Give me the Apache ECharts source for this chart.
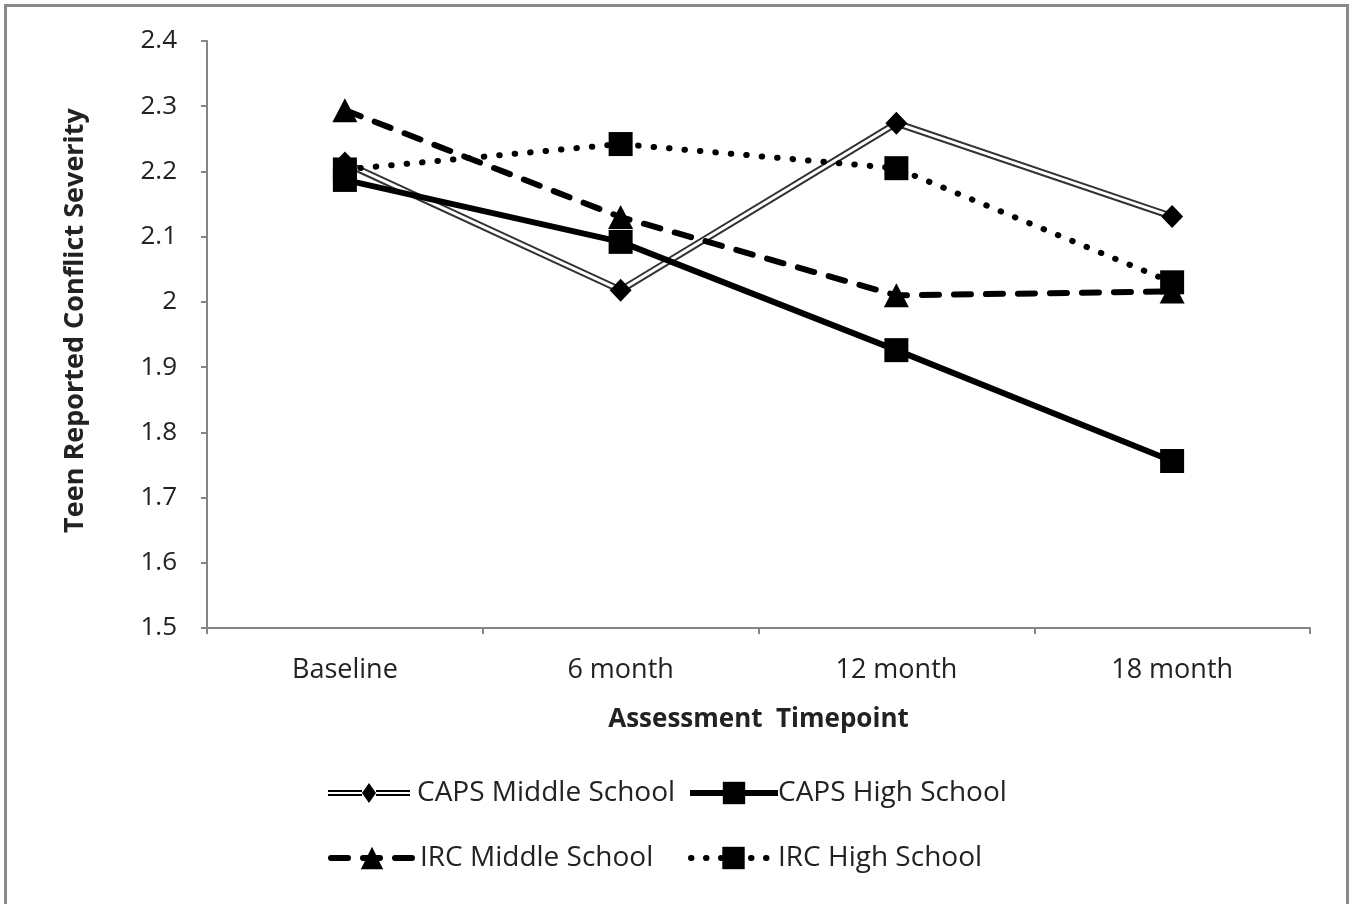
<!DOCTYPE html>
<html>
<head>
<meta charset="utf-8">
<script src="https://cdn.jsdelivr.net/npm/echarts@6/dist/echarts.min.js"></script>
<style>
  html, body { margin: 0; padding: 0; background: #fff; overflow: hidden; }
  #frame { position: absolute; left: 4px; top: 4px; width: 1339px; height: 940px; border: 3px solid #8a8a8a; box-sizing: content-box; }
  #chart { position: absolute; left: 0; top: 0; width: 1353px; height: 904px; }
</style>
</head>
<body>
<div id="frame"></div>
<div id="chart"></div>
<script>
const categories = ['Baseline', '6 month', '12 month', '18 month'];
const capsMiddle = [2.213, 2.018, 2.274, 2.131];
const capsHigh = [2.187, 2.092, 1.926, 1.756];
const ircMiddle = [2.294, 2.130, 2.010, 2.016];
const ircHigh = [2.203, 2.242, 2.205, 2.030];
const yTicks = { min: 1.5, max: 2.4, interval: 0.1 };

const FONT = 'Open Sans';
const chart = echarts.init(document.getElementById('chart'), null, { renderer: 'canvas' });

// legend icon: double line with a diamond in the middle (bbox 82 x 20)
const doubleIcon = 'path://M0,7L34,7L34,9L0,9Z M0,11L34,11L34,13L0,13Z M48,7L82,7L82,9L48,9Z M48,11L82,11L82,13L48,13Z M41,0L48,10L41,20L34,10Z';

const legendText = { fontFamily: FONT, fontSize: 28, color: '#222', lineHeight: 30 };

const option = {
  backgroundColor: 'transparent',
  animation: false,
  grid: { left: 207, right: 43, top: 41, bottom: 276, containLabel: false },
  xAxis: {
    type: 'category',
    data: categories,
    boundaryGap: true,
    axisLine: { lineStyle: { color: '#858585', width: 2 } },
    axisTick: { show: true, length: 6, alignWithLabel: false, lineStyle: { color: '#858585', width: 2 } },
    axisLabel: { fontFamily: FONT, fontSize: 27, color: '#222', margin: 29 },
    name: 'Assessment  Timepoint',
    nameLocation: 'middle',
    nameGap: 79,
    nameTextStyle: { fontFamily: FONT, fontSize: 26, fontWeight: 'bold', color: '#222' }
  },
  yAxis: {
    type: 'value',
    min: yTicks.min, max: yTicks.max, interval: yTicks.interval,
    axisLine: { show: true, lineStyle: { color: '#858585', width: 2 } },
    axisTick: { show: true, length: 6, lineStyle: { color: '#858585', width: 2 } },
    splitLine: { show: false },
    axisLabel: { fontFamily: FONT, fontSize: 26, color: '#222', margin: 30 },
    name: 'Teen Reported Conflict Severity',
    nameLocation: 'middle',
    nameGap: 118,
    nameTextStyle: { fontFamily: FONT, fontSize: 27, fontWeight: 'bold', color: '#222', padding: [0, 0, 0, 28] }
  },
  legend: [
    {
      left: 323, top: 773, itemWidth: 82, itemHeight: 20, itemGap: 0,
      textStyle: Object.assign({ padding: [0, 0, 0, 2] }, legendText),
      data: [{ name: 'CAPS Middle School', icon: doubleIcon }]
    },
    {
      left: 682, top: 773, itemWidth: 88, itemHeight: 28, itemGap: 0,
      textStyle: Object.assign({ padding: [0, 0, 0, -5] }, legendText),
      data: [{ name: 'CAPS High School', lineStyle: { width: 6 } }]
    },
    {
      left: 323, top: 838, itemWidth: 82, itemHeight: 28, itemGap: 0,
      textStyle: Object.assign({ padding: [0, 0, 0, 2] }, legendText),
      data: [{ name: 'IRC Middle School', lineStyle: { width: 6, type: [17, 15], cap: 'round' } }]
    },
    {
      left: 683, top: 838, itemWidth: 85, itemHeight: 28, itemGap: 0,
      textStyle: Object.assign({ padding: [0, 0, 0, -3] }, legendText),
      data: [{ name: 'IRC High School', lineStyle: { width: 6, type: [0.5, 14.5], cap: 'round' } }]
    }
  ],
  series: [
    // CAPS middle school: double line = dark wide stroke + white core, diamonds on top
    {
      name: 'CAPS Middle School', type: 'line', data: capsMiddle, z: 2,
      symbol: 'none', showSymbol: false,
      lineStyle: { color: '#333', width: 7 },
      itemStyle: { color: '#000' }
    },
    {
      name: '_capsMiddleCore', type: 'line', data: capsMiddle, z: 3,
      symbol: 'none', showSymbol: false, silent: true,
      lineStyle: { color: '#fff', width: 3 }
    },
    {
      name: '_capsMiddleMarks', type: 'line', data: capsMiddle, z: 6,
      symbol: 'diamond', symbolSize: [22, 23], showSymbol: true,
      lineStyle: { width: 0, opacity: 0 },
      itemStyle: { color: '#000' }
    },
    {
      name: 'CAPS High School', type: 'line', data: capsHigh, z: 5,
      symbol: 'rect', symbolSize: 24,
      lineStyle: { color: '#000', width: 6 },
      itemStyle: { color: '#000' }
    },
    {
      name: 'IRC Middle School', type: 'line', data: ircMiddle, z: 4,
      symbol: 'triangle', symbolSize: [25, 24],
      lineStyle: { color: '#000', width: 6, type: [17, 15], cap: 'round' },
      itemStyle: { color: '#000' }
    },
    {
      name: 'IRC High School', type: 'line', data: ircHigh, z: 4,
      symbol: 'rect', symbolSize: 24,
      lineStyle: { color: '#000', width: 6, type: [0.5, 15], cap: 'round' },
      itemStyle: { color: '#000' }
    }
  ]
};
chart.setOption(option);
</script>
</body>
</html>
